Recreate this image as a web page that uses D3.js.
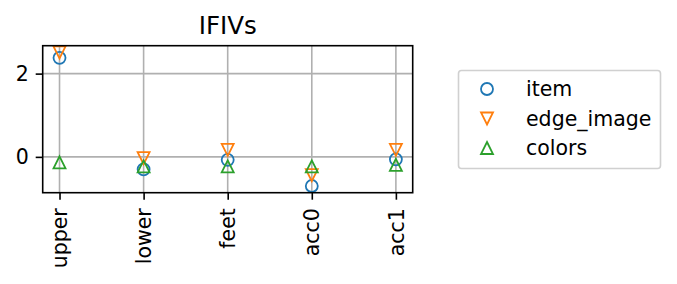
<!DOCTYPE html>
<html>
<head>
<meta charset="utf-8">
<script src="https://cdn.jsdelivr.net/npm/d3@7"></script>
<style>
  body { margin: 0; background: #fff; }
  text { font-family: "DejaVu Sans", sans-serif; }
</style>
</head>
<body>
<div id="container"></div>
<script>
/* DATA */
const categories = ["upper", "lower", "feet", "acc0", "acc1"];
const itemVals = [2.38, -0.30, -0.07, -0.70, -0.06];
const edgeVals = [2.51, -0.03, 0.17, -0.44, 0.17];
const colorVals = [-0.13, -0.23, -0.23, -0.23, -0.19];
const yTicks = [0, 2];

const seriesNames = ["item", "edge_image", "colors"];
const seriesColors = ["#1f77b4", "#ff7f0e", "#2ca02c"];
const seriesShapes = ["circle", "down", "up"];
const series = [itemVals, edgeVals, colorVals].map((vals, i) => ({
  name: seriesNames[i], color: seriesColors[i], shape: seriesShapes[i], values: vals
}));

/* CONSTANTS */
const width = 677, height = 284;
const plot = { left: 42.7, right: 412.7, top: 45.7, bottom: 192.7 };

const svg = d3.select("#container").append("svg")
  .attr("width", width).attr("height", height);

/* SCALES */
const xScale = d3.scaleLinear()
  .domain([-0.2, categories.length - 1 + 0.2])
  .range([plot.left, plot.right]);

const allVals = series.flatMap(s => s.values);
const yMin = d3.min(allVals), yMax = d3.max(allVals);
const pad = (yMax - yMin) * 0.05;
const yScale = d3.scaleLinear()
  .domain([yMin - pad, yMax + pad])
  .range([plot.bottom, plot.top]);

/* GRID */
const grid = svg.append("g");
grid.selectAll("line.vg").data(categories).join("line")
  .attr("x1", (d, i) => xScale(i)).attr("x2", (d, i) => xScale(i))
  .attr("y1", plot.top).attr("y2", plot.bottom)
  .attr("stroke", "#b0b0b0").attr("stroke-width", 1.6);
grid.selectAll("line.hg").data(yTicks).join("line")
  .attr("x1", plot.left).attr("x2", plot.right)
  .attr("y1", d => yScale(d)).attr("y2", d => yScale(d))
  .attr("stroke", "#b0b0b0").attr("stroke-width", 1.6);

/* MARKERS */
function markerPath(shape, r) {
  if (shape === "circle") return d3.symbol(d3.symbolCircle, Math.PI * r * r)();
  if (shape === "up") return `M0,${-r}L${r},${r}L${-r},${r}Z`;
  return `M0,${r}L${r},${-r}L${-r},${-r}Z`;
}

series.forEach(s => {
  svg.append("g").selectAll("path").data(s.values).join("path")
    .attr("d", markerPath(s.shape, 6))
    .attr("transform", (d, i) => `translate(${xScale(i)},${yScale(d)})`)
    .attr("fill", "none")
    .attr("stroke", s.color)
    .attr("stroke-width", 1.8);
});

/* AXES */
const xAxis = d3.axisBottom(xScale)
  .tickValues(d3.range(categories.length))
  .tickFormat(i => categories[i])
  .tickSize(7).tickPadding(7);
const xg = svg.append("g")
  .attr("transform", `translate(0,${plot.bottom})`)
  .call(xAxis);
xg.select(".domain").remove();
xg.selectAll("line").attr("stroke", "#000").attr("stroke-width", 1.6);
xg.selectAll("text")
  .attr("font-size", 20.5).attr("fill", "#000")
  .attr("transform", "rotate(-90)")
  .attr("text-anchor", "end")
  .attr("x", -15.5).attr("y", 0).attr("dy", "0.35em");

const yAxis = d3.axisLeft(yScale).tickValues(yTicks)
  .tickFormat(d3.format("d")).tickSize(7).tickPadding(7);
const yg = svg.append("g")
  .attr("transform", `translate(${plot.left},0)`)
  .call(yAxis);
yg.select(".domain").remove();
yg.selectAll("line").attr("stroke", "#000").attr("stroke-width", 1.6);
yg.selectAll("text").attr("font-size", 20.5).attr("fill", "#000");

/* FRAME */
svg.append("rect")
  .attr("x", plot.left).attr("y", plot.top)
  .attr("width", plot.right - plot.left).attr("height", plot.bottom - plot.top)
  .attr("fill", "none").attr("stroke", "#000").attr("stroke-width", 1.6);

/* TITLE */
svg.append("text")
  .attr("x", (plot.left + plot.right) / 2).attr("y", 34)
  .attr("text-anchor", "middle").attr("font-size", 24.5)
  .text("IFIVs");

/* LEGEND */
const legend = svg.append("g");
legend.append("rect")
  .attr("x", 458.5).attr("y", 70.5).attr("width", 202).attr("height", 98)
  .attr("rx", 3).attr("fill", "#fff").attr("stroke", "#d0d0d0").attr("stroke-width", 1.6);
const rows = legend.selectAll("g.row").data(series).join("g")
  .attr("transform", (d, i) => `translate(0,${89 + i * 29.5})`);
rows.append("path")
  .attr("d", d => markerPath(d.shape, 6))
  .attr("transform", "translate(487,0)")
  .attr("fill", "none").attr("stroke", d => d.color).attr("stroke-width", 1.8);
rows.append("text")
  .attr("x", 526).attr("dy", "0.35em").attr("font-size", 20.5)
  .text(d => d.name);
</script>
</body>
</html>
